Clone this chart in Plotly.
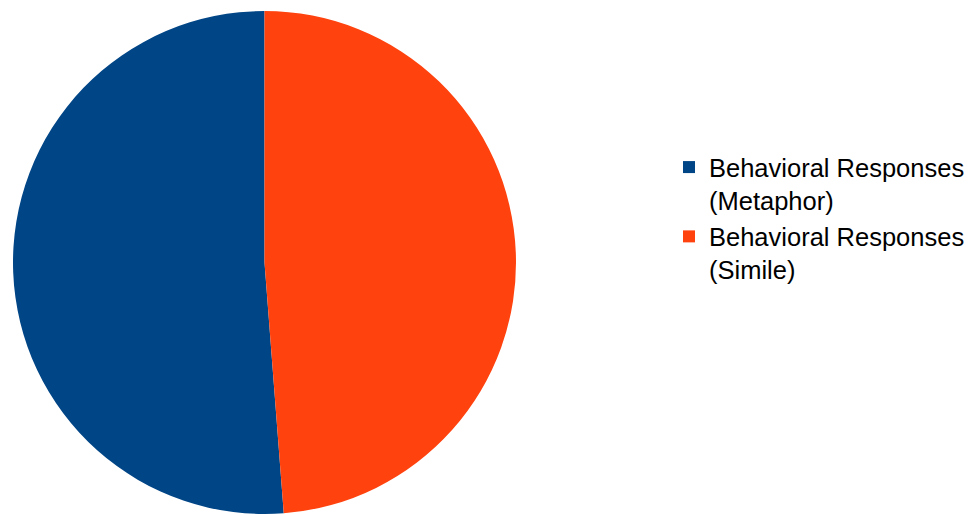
import plotly.graph_objects as go

labels = ["Behavioral Responses<br>(Metaphor)", "Behavioral Responses<br>(Simile)"]
values = [21, 20]
colors = ["#004586", "#ff420e"]

# first slice (Metaphor) runs clockwise from the far end of the Simile slice back to 12 o'clock
start_angle = 360 * values[1] / sum(values)

fig = go.Figure(
    go.Pie(
        labels=labels,
        values=values,
        sort=False,
        direction="clockwise",
        rotation=start_angle,
        textinfo="none",
        hoverinfo="label+percent",
        marker=dict(colors=colors, line=dict(width=0)),
        domain=dict(x=[11 / 973, 518 / 973], y=[0, 1 - 11 / 514]),
    )
)

fig.update_layout(
    width=973,
    height=514,
    margin=dict(l=0, r=0, t=0, b=0),
    paper_bgcolor="white",
    plot_bgcolor="white",
    font=dict(family="Liberation Sans, Arial, sans-serif", color="#000000"),
    legend=dict(
        x=669 / 973,
        xanchor="left",
        y=1 - 144 / 514,
        yanchor="top",
        valign="top",
        font=dict(size=25.5, family="Liberation Sans, Arial, sans-serif", color="#000000"),
        bgcolor="rgba(0,0,0,0)",
    ),
    showlegend=True,
)

fig.write_html("out.html")
